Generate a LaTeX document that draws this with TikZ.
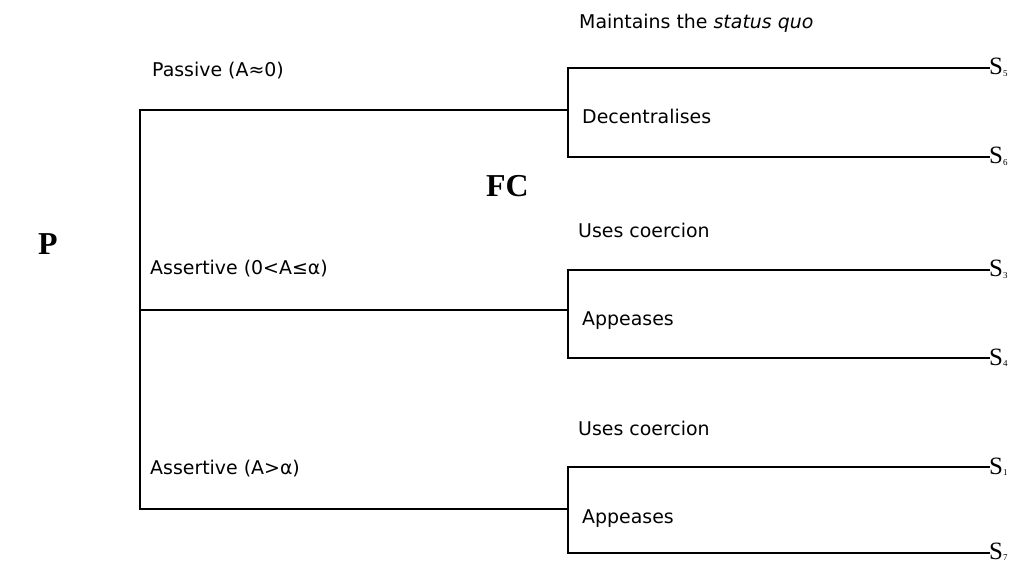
\documentclass[tikz,border=0pt]{standalone}
\usepackage{fontspec}
\setmainfont{DejaVu Sans}
\newfontfamily\serifbold{Liberation Serif}[BoldFont={* Bold}]
\newfontfamily\seriffont{Liberation Serif}
\begin{document}
\begin{tikzpicture}[x=1bp,y=-1bp,
  branch/.style={line width=1.9bp, line cap=rect},
  lbl/.style={inner sep=0pt, anchor=base west, font=\fontsize{19}{22}\selectfont},
  player/.style={inner sep=0pt, anchor=base west, font=\fontsize{32}{36}\serifbold\bfseries},
  slabel/.style={inner sep=0pt, anchor=base west, font=\fontsize{25}{27}\seriffont}]
\useasboundingbox (0,0) rectangle (1019,563);

% decision points and branch ends
\coordinate (root) at (140,110);
\coordinate (r2) at (140,310);
\coordinate (r3) at (140,509);
\coordinate (b1) at (568,110);
\coordinate (b2) at (568,310);
\coordinate (b3) at (568,509);
\coordinate (b1t) at (568,68);
\coordinate (b1b) at (568,157);
\coordinate (b2t) at (568,270);
\coordinate (b2b) at (568,358);
\coordinate (b3t) at (568,467);
\coordinate (b3b) at (568,553);

% players
\node[player] (p) at (38,255) {P};
\node[player] (fc) at (486,197) {FC};

% outcomes
\newcommand{\outcome}[1]{S\raisebox{-1.5bp}{\fontsize{9}{9}\selectfont #1}}
\node[slabel] (s5) at (989,75) {\outcome{5}};
\node[slabel] (s6) at (989,164) {\outcome{6}};
\node[slabel] (s3) at (989,277) {\outcome{3}};
\node[slabel] (s4) at (989,365) {\outcome{4}};
\node[slabel] (s1) at (989,474) {\outcome{1}};
\node[slabel] (s7) at (989,559) {\outcome{7}};

% first mover's choices
\draw[branch] (r3) -- (root) -- (b1);
\draw[branch] (r2) -- (b2);
\draw[branch] (r3) -- (b3);

% second mover's brackets
\draw[branch] (b1t -| s5.west) -- (b1t) -- (b1b) -- (b1b -| s6.west);
\draw[branch] (b2t -| s3.west) -- (b2t) -- (b2b) -- (b2b -| s4.west);
\draw[branch] (b3t -| s1.west) -- (b3t) -- (b3b) -- (b3b -| s7.west);

% branch labels
\node[lbl] (pas) at (152,77) {Passive (A≈0)};
\node[lbl] (as1) at (150,275) {Assertive (0<A≤α)};
\node[lbl] (as2) at (150,474) {Assertive (A>α)};

\node[lbl] (mq) at (579,29) {Maintains the \textit{status quo}};
\node[lbl] (dc) at (582,124) {Decentralises};
\node[lbl] (uc1) at (578,238) {Uses coercion};
\node[lbl] (ap1) at (582,325) {Appeases};
\node[lbl] (uc2) at (578,435) {Uses coercion};
\node[lbl] (ap2) at (582,523) {Appeases};
\end{tikzpicture}
\end{document}
